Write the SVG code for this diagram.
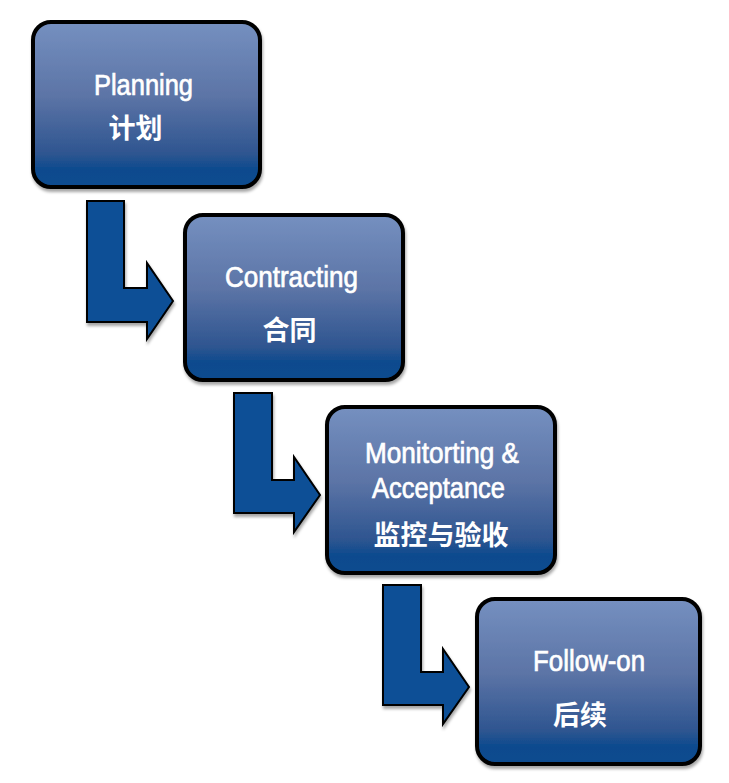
<svg xmlns="http://www.w3.org/2000/svg" width="729" height="783" viewBox="0 0 729 783">
  <defs>
    <linearGradient id="boxGrad" x1="0" y1="0" x2="0" y2="1">
      <stop offset="0" stop-color="#7590c0"/>
      <stop offset="0.45" stop-color="#5c74a6"/>
      <stop offset="0.8" stop-color="#2e5590"/>
      <stop offset="0.9" stop-color="#0a4a8e"/>
      <stop offset="1" stop-color="#0d4c8f"/>
    </linearGradient>
    <filter id="shadow" x="-10%" y="-10%" width="120%" height="125%">
      <feDropShadow dx="1" dy="3" stdDeviation="1.5" flood-color="#000000" flood-opacity="0.35"/>
    </filter>
  </defs>
  <style>
    .box { fill: url(#boxGrad); stroke: #000000; stroke-width: 4; filter: url(#shadow); }
    .arrow { fill: #0a5096; stroke: #000000; stroke-width: 2; stroke-linejoin: miter; filter: url(#shadow); }
    .en { font-family: "Liberation Sans", Arial, sans-serif; font-size: 29px; fill: #ffffff; stroke: #ffffff; stroke-width: 0.7; text-anchor: middle; }
    .cn { font-family: "Noto Sans CJK SC", "Liberation Sans", sans-serif; font-size: 27px; font-weight: bold; fill: #ffffff; text-anchor: middle; }
  </style>
  <rect width="729" height="783" fill="#ffffff"/>

  <g id="connectors">
    <path class="arrow" d="M87,201 L124,201 L124,288 L147,288 L147,263 L173,301 L147,339 L147,322 L87,322 Z"/>
    <path class="arrow" d="M234,393 L272,393 L272,480 L294,480 L294,457 L320,495 L294,532 L294,513 L234,513 Z"/>
    <path class="arrow" d="M383,585 L421,585 L421,672 L443,672 L443,649 L469,687 L443,724 L443,705 L383,705 Z"/>
  </g>

  <g id="planning">
    <rect class="box" x="33" y="22" width="227" height="165" rx="18"/>
    <text class="en" x="143.5" y="95" textLength="99" lengthAdjust="spacingAndGlyphs">Planning</text>
    <text class="cn" x="135.5" y="138">计划</text>
  </g>

  <g id="contracting">
    <rect class="box" x="185" y="215" width="218" height="165" rx="18"/>
    <text class="en" x="291.5" y="287" textLength="133" lengthAdjust="spacingAndGlyphs">Contracting</text>
    <text class="cn" x="289.5" y="340">合同</text>
  </g>

  <g id="monitoring">
    <rect class="box" x="327" y="407" width="228" height="166" rx="18"/>
    <text class="en" x="442" y="463" textLength="154" lengthAdjust="spacingAndGlyphs">Monitorting &amp;</text>
    <text class="en" x="438.5" y="498" textLength="133" lengthAdjust="spacingAndGlyphs">Acceptance</text>
    <text class="cn" x="441" y="545">监控与验收</text>
  </g>

  <g id="followon">
    <rect class="box" x="477" y="599" width="223" height="165" rx="18"/>
    <text class="en" x="589" y="671" textLength="112" lengthAdjust="spacingAndGlyphs">Follow-on</text>
    <text class="cn" x="580" y="725">后续</text>
  </g>
</svg>
